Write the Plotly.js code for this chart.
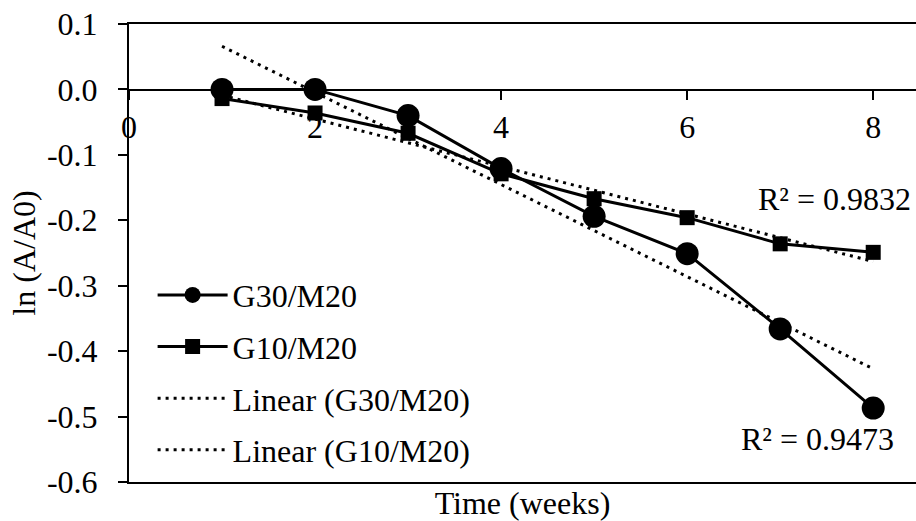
<!DOCTYPE html>
<html>
<head>
<meta charset="utf-8">
<script src="https://cdn.plot.ly/plotly-3.0.1.min.js"></script>
<style>html,body{margin:0;padding:0;background:#fff;}#chart{width:916px;height:521px;}</style>
</head>
<body>
<div id="chart"></div>
<script>
// Data
const weeks = [1, 2, 3, 4, 5, 6, 7, 8];
const g30m20 = [0.000, 0.000, -0.040, -0.121, -0.194, -0.251, -0.366, -0.487];
const g10m20 = [-0.014, -0.036, -0.067, -0.129, -0.167, -0.196, -0.236, -0.249];
// Trend line end points (as drawn)
const trendWeeks = [1, 8];
const trendG30 = [0.066, -0.427];
const trendG10 = [-0.009, -0.263];
const r2Labels = ["R² = 0.9832", "R² = 0.9473"];
const seriesNames = ["G30/M20", "G10/M20", "Linear (G30/M20)", "Linear (G10/M20)"];
const yTickVals = [0.1, 0.0, -0.1, -0.2, -0.3, -0.4, -0.5, -0.6];
const yTickText = ["0.1", "0.0", "-0.1", "-0.2", "-0.3", "-0.4", "-0.5", "-0.6"];
const xTickVals = [0, 2, 4, 6, 8];

const FONT = "Liberation Serif, Times New Roman, serif";
const FS = 32;

const traces = [
  {x: weeks, y: g30m20, name: seriesNames[0], mode: 'lines+markers', legendgroup: 'a',
   line: {color: '#000', width: 3}, marker: {symbol: 'circle', size: 23, color: '#000'}},
  {x: weeks, y: g10m20, name: seriesNames[1], mode: 'lines+markers', legendgroup: 'b',
   line: {color: '#000', width: 3}, marker: {symbol: 'square', size: 15, color: '#000'}},
  {x: trendWeeks, y: trendG30, name: seriesNames[2], mode: 'lines', legendgroup: 'c',
   line: {color: '#000', width: 3, dash: '3px,5px'}},
  {x: trendWeeks, y: trendG10, name: seriesNames[3], mode: 'lines', legendgroup: 'd',
   line: {color: '#000', width: 3, dash: '3px,5px'}}
];

const layout = {
  width: 916, height: 521,
  margin: {l: 129, r: 0, t: 24, b: 39},
  paper_bgcolor: '#fff', plot_bgcolor: '#fff',
  font: {family: FONT, size: FS, color: '#000'},
  showlegend: true,
  legend: {x: 0.03, y: 0.468, xanchor: 'left', yanchor: 'top', bgcolor: 'rgba(0,0,0,0)',
           font: {family: FONT, size: FS, color: '#000'}, itemwidth: 70, tracegroupgap: 7,
           traceorder: 'grouped'},
  xaxis: {range: [0, 8.46], showgrid: false, zeroline: false, showline: true, linecolor: '#000',
          linewidth: 2, mirror: true, ticks: '', showticklabels: false,
          title: {text: 'Time (weeks)', font: {family: FONT, size: FS}, standoff: 11}},
  xaxis2: {overlaying: 'x', anchor: 'free', position: 0.6 / 0.7, side: 'bottom', range: [0, 8.46],
           showgrid: false, zeroline: false, showline: true, linecolor: '#000', linewidth: 1.5,
           ticks: 'outside', ticklen: 9, tickwidth: 2, tickcolor: '#000',
           tickvals: xTickVals, ticktext: xTickVals.map(String), ticklabelstandoff: 0,
           tickfont: {family: FONT, size: FS}},
  yaxis: {range: [-0.6, 0.1], showgrid: false, zeroline: false, showline: true, linecolor: '#000',
          linewidth: 2, ticks: 'outside', ticklen: 9, tickwidth: 2, tickcolor: '#000',
          tickvals: yTickVals, ticktext: yTickText, ticklabelstandoff: 14,
          tickfont: {family: FONT, size: FS},
          title: {text: 'ln (A/A0)', font: {family: FONT, size: FS}, standoff: 2}},
  annotations: [
    {x: 7.58, y: -0.167, xref: 'x', yref: 'y', text: r2Labels[0], showarrow: false,
     font: {family: FONT, size: FS, color: '#000'}},
    {x: 7.40, y: -0.534, xref: 'x', yref: 'y', text: r2Labels[1], showarrow: false,
     font: {family: FONT, size: FS, color: '#000'}}
  ]
};

// invisible trace so that the zero-crossing axis (xaxis2) is drawn
traces.push({x: [0], y: [0], xaxis: 'x2', yaxis: 'y', mode: 'markers', marker: {opacity: 0},
             showlegend: false, hoverinfo: 'skip'});

Plotly.newPlot('chart', traces, layout, {displayModeBar: false, staticPlot: true});
</script>
</body>
</html>
